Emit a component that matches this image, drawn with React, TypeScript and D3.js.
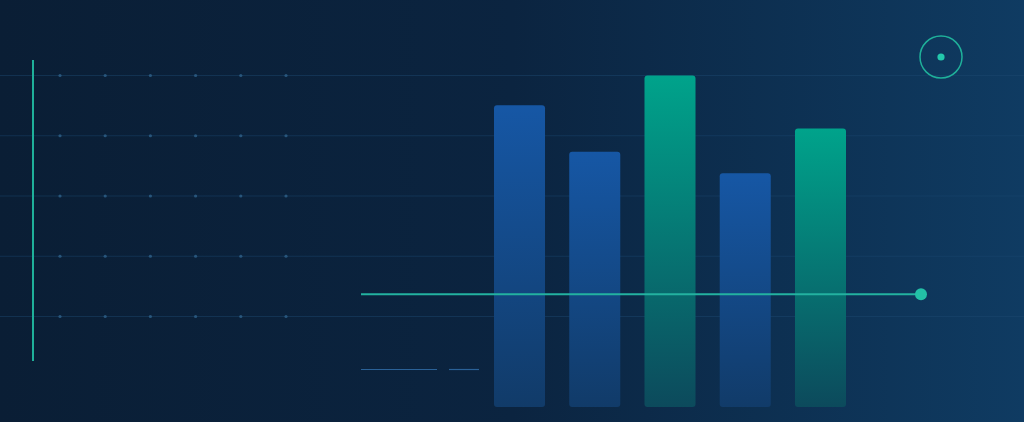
import { useEffect, useRef } from "react"
import * as d3 from "d3"

const W = 1024, H = 422

// bar values (0–100 scale)
const barKeys = ["A", "B", "C", "D", "E"]
const barValues = [91, 77, 100, 70.5, 84]
const barKinds = ["blue", "blue", "teal", "blue", "teal"]

// decorative grid: 5 rows, 6 dot columns
const gridRows = [0, 1, 2, 3, 4]
const dotCols = [0, 1, 2, 3, 4, 5]

// reference line value and short legend dashes
const refValue = 34
const legendDashes = [[0, 76], [88, 118]]

export default function App() {
  const ref = useRef<SVGSVGElement>(null)
  useEffect(() => {
    if (!ref.current) return
    const svg = d3.select(ref.current)
    svg.selectAll("*").remove()
    const defs = svg.append("defs")

    const bg = defs.append("linearGradient").attr("id", "bg").attr("x1", 0).attr("x2", 1).attr("y1", 0).attr("y2", 0)
    bg.append("stop").attr("offset", "0%").attr("stop-color", "#0a1e35")
    bg.append("stop").attr("offset", "50%").attr("stop-color", "#0b2440")
    bg.append("stop").attr("offset", "100%").attr("stop-color", "#0f3b62")

    const gBlue = defs.append("linearGradient").attr("id", "gBlue").attr("x1", 0).attr("x2", 0).attr("y1", 0).attr("y2", 1)
    gBlue.append("stop").attr("offset", "0%").attr("stop-color", "#1657a5")
    gBlue.append("stop").attr("offset", "100%").attr("stop-color", "#113b69")
    const gTeal = defs.append("linearGradient").attr("id", "gTeal").attr("x1", 0).attr("x2", 0).attr("y1", 0).attr("y2", 1)
    gTeal.append("stop").attr("offset", "0%").attr("stop-color", "#00a38b")
    gTeal.append("stop").attr("offset", "100%").attr("stop-color", "#0c4a5c")

    svg.append("rect").attr("width", W).attr("height", H).attr("fill", "url(#bg)")

    // grid rows
    const gy = d3.scalePoint<number>().domain(gridRows).range([75.5, 316.5])
    const gx = d3.scalePoint<number>().domain(dotCols).range([60, 286])
    svg.append("g").selectAll("line").data(gridRows).join("line")
      .attr("x1", 0).attr("x2", W).attr("y1", d => gy(d)!).attr("y2", d => gy(d)!)
      .attr("stroke", "#1d4a72").attr("stroke-opacity", 0.45).attr("stroke-width", 1)
    const dots = gridRows.flatMap(r => dotCols.map(c => ({ r, c })))
    svg.append("g").selectAll("circle").data(dots).join("circle")
      .attr("cx", d => gx(d.c)!).attr("cy", d => gy(d.r)!).attr("r", 1.6)
      .attr("fill", "#2d5e86").attr("fill-opacity", 0.85)

    // left axis line
    svg.append("line").attr("x1", 33).attr("x2", 33).attr("y1", 60).attr("y2", 361)
      .attr("stroke", "#1fb09a").attr("stroke-width", 2)

    // bars
    const x = d3.scaleBand().domain(barKeys).range([494, 846]).paddingInner(0.322).paddingOuter(0)
    const y = d3.scaleLinear().domain([0, 100]).range([407, 75.5])
    svg.append("g").selectAll("rect").data(barKeys).join("rect")
      .attr("x", d => x(d)!).attr("width", x.bandwidth())
      .attr("y", (_, i) => y(barValues[i])).attr("height", (_, i) => y(0) - y(barValues[i]))
      .attr("rx", 3).attr("fill", (_, i) => barKinds[i] === "teal" ? "url(#gTeal)" : "url(#gBlue)")

    // reference line with end marker
    const ry = y(refValue)
    svg.append("line").attr("x1", 361).attr("x2", 921).attr("y1", ry).attr("y2", ry)
      .attr("stroke", "#23b2a0").attr("stroke-width", 2)
    svg.append("circle").attr("cx", 921).attr("cy", ry).attr("r", 6).attr("fill", "#23c0a6")

    // short legend dashes
    const lx = d3.scaleLinear().domain([0, 118]).range([361, 479])
    svg.append("g").selectAll("line").data(legendDashes).join("line")
      .attr("x1", d => lx(d[0])).attr("x2", d => lx(d[1])).attr("y1", 369.5).attr("y2", 369.5)
      .attr("stroke", "#2a6197").attr("stroke-width", 1.2)

    // target icon
    svg.append("circle").attr("cx", 941).attr("cy", 57).attr("r", 21).attr("fill", "none")
      .attr("stroke", "#1fb09a").attr("stroke-width", 1.5)
    svg.append("circle").attr("cx", 941).attr("cy", 57).attr("r", 3.6).attr("fill", "#23c8ac")
  }, [])
  return (
    <div style={{ position: "fixed", left: 0, top: 0, width: W, height: H }}>
      <svg ref={ref} width={W} height={H} style={{ display: "block" }} />
    </div>
  )
}
